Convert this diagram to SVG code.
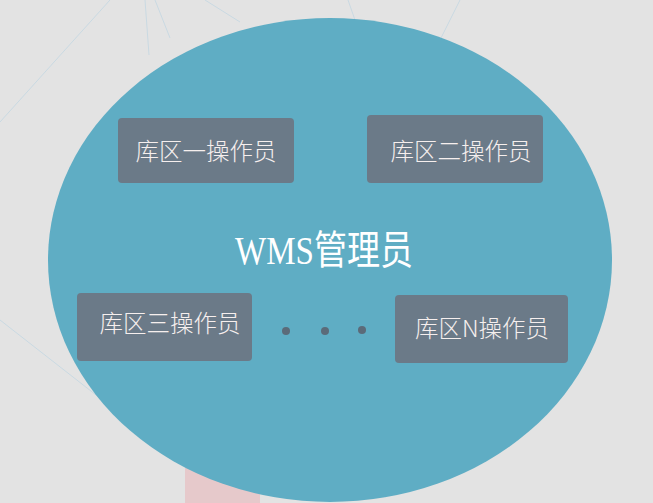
<svg xmlns="http://www.w3.org/2000/svg" width="653" height="503" viewBox="0 0 653 503">
<style>
.bgl{stroke:#c9d9e2;stroke-width:1;fill:none}
.box{fill:#6b7a88}
.lbl{font-family:"Noto Sans CJK SC","Liberation Sans",sans-serif;font-size:23.5px;fill:#f6efee;text-anchor:middle;font-weight:300}
.title{font-family:"Liberation Serif","Noto Sans CJK SC",serif;font-size:40px;fill:#ffffff;text-anchor:middle}
.dot{fill:#5b6b79}
</style>
<rect x="0" y="0" width="653" height="503" fill="#e3e3e3"/>
<g id="background">
<path class="bgl" d="M0 122 L110 0"/>
<path class="bgl" d="M145 0 L149 55"/>
<path class="bgl" d="M155 0 L170 38"/>
<path class="bgl" d="M205 0 L240 22"/>
<path class="bgl" d="M348 0 L362 40"/>
<path class="bgl" d="M460 0 L418 84"/>
<path class="bgl" d="M0 320 L105 402"/>
<rect x="185" y="468" width="75" height="35" fill="#e6c9cb"/>
</g>
<g id="wms">
<ellipse cx="330" cy="260" rx="282" ry="242" fill="#5fadc4"/>
<text class="title" x="324" y="264" textLength="178" lengthAdjust="spacingAndGlyphs">WMS管理员</text>
</g>
<g id="op1">
<rect class="box" x="118" y="118" width="176" height="65" rx="4"/>
<text class="lbl" x="206" y="160">库区一操作员</text>
</g>
<g id="op2">
<rect class="box" x="367" y="115" width="176" height="68" rx="4"/>
<text class="lbl" x="461" y="160">库区二操作员</text>
</g>
<g id="op3">
<rect class="box" x="77" y="293" width="175" height="68" rx="4"/>
<text class="lbl" x="170" y="332">库区三操作员</text>
</g>
<g id="opN">
<rect class="box" x="395" y="295" width="173" height="68" rx="4"/>
<text class="lbl" x="482" y="337">库区N操作员</text>
</g>
<g id="ellipsis">
<circle class="dot" cx="286" cy="331" r="4"/>
<circle class="dot" cx="325" cy="331" r="4"/>
<circle class="dot" cx="362" cy="330" r="4"/>
</g>
<g id="connectors"/>
</svg>
